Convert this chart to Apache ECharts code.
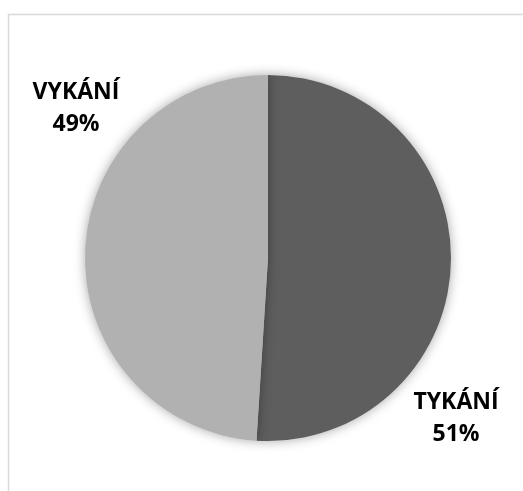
<!DOCTYPE html>
<html>
<head>
<meta charset="utf-8">
<script src="https://cdn.jsdelivr.net/npm/echarts@6/dist/echarts.min.js"></script>
<style>
  html, body { margin: 0; padding: 0; background: #ffffff; }
  #chart { width: 523px; height: 491px; }
</style>
</head>
<body>
<div id="chart"></div>
<script>
// Forms of address: informal vs formal
const categories = ['TYKÁNÍ', 'VYKÁNÍ'];
const shares = [51, 49];
const sliceColors = ['#5e5e5e', '#b1b1b1'];

// Label anchor points (centre of each two-line label)
const labelSpots = [[456, 418], [76, 108]];

const chart = echarts.init(document.getElementById('chart'), null, { renderer: 'canvas' });

chart.setOption({
  animation: false,
  backgroundColor: '#ffffff',
  graphic: [{
    type: 'rect',
    shape: { x: 8.5, y: 14.5, width: 600, height: 600 },
    style: { fill: 'none', stroke: '#d9d9d9', lineWidth: 1.5 },
    silent: true
  }],
  series: [{
    type: 'pie',
    center: [268, 258],
    radius: 183,
    startAngle: 90,
    clockwise: true,
    data: categories.map((name, i) => ({
      name: name,
      value: shares[i],
      itemStyle: { color: sliceColors[i] }
    })),
    itemStyle: {
      borderWidth: 0,
      shadowBlur: 12,
      shadowColor: 'rgba(0,0,0,0.35)'
    },
    label: {
      show: true,
      position: 'inside',
      overflow: 'none',
      formatter: p => p.name + '\n' + p.value + '%',
      fontFamily: 'Open Sans',
      fontWeight: 'bold',
      fontSize: 23,
      lineHeight: 32,
      color: '#000000',
      align: 'center'
    },
    labelLine: { show: false },
    labelLayout: params => ({
      x: labelSpots[params.dataIndex][0],
      y: labelSpots[params.dataIndex][1],
      align: 'center',
      verticalAlign: 'middle',
      hideOverlap: false
    })
  }]
});
</script>
</body>
</html>
